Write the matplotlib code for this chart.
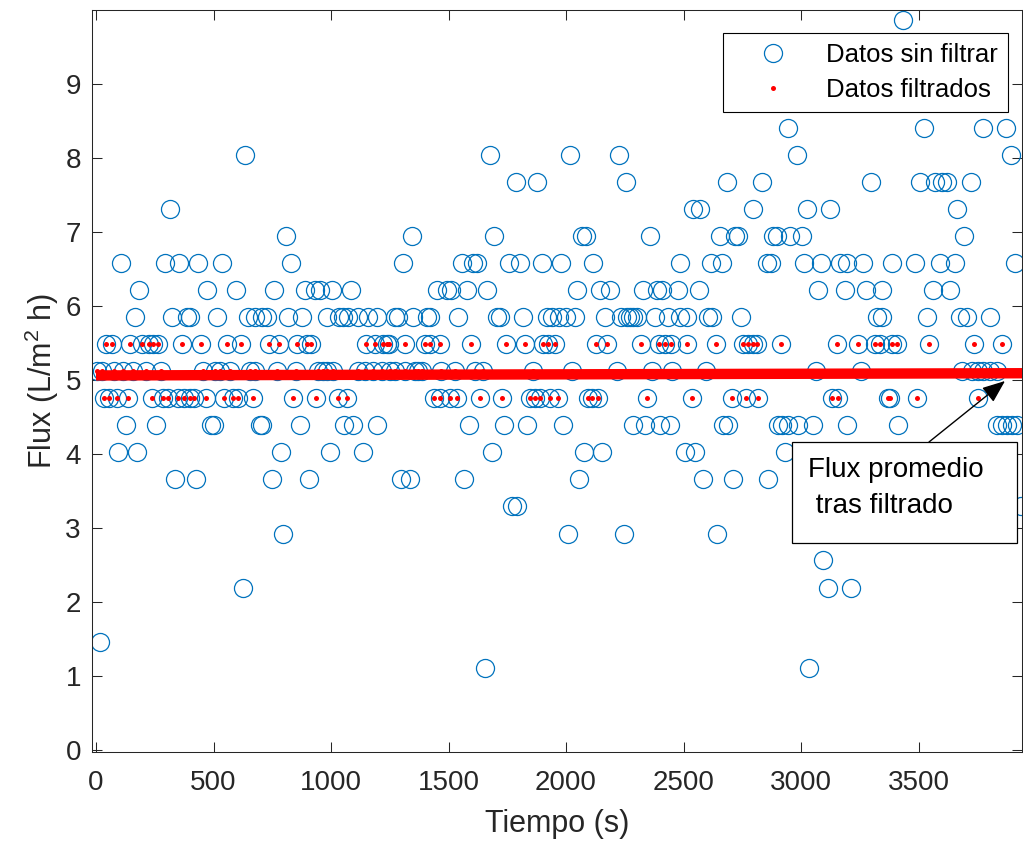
import matplotlib
matplotlib.use("Agg")
import matplotlib.pyplot as plt
from matplotlib.patches import Rectangle
import numpy as np

plt.rcParams['font.family'] = ['Liberation Sans', 'DejaVu Sans']
plt.rcParams['mathtext.fontset'] = 'custom'
plt.rcParams['mathtext.rm'] = 'Liberation Sans'

# ---- data: time (s) of each raw sample, grouped by measured flux level ----
t_987 = [3435]
t_841 = [2946, 3524, 3776, 3872]
t_804 = [636, 1676, 2017, 2225, 2984, 3892]
t_768 = [1787, 1878, 2255, 2684, 2833, 3296, 3506, 3570, 3598, 3622, 3723]
t_731 = [316, 2542, 2570, 2797, 3024, 3123, 3662]
t_694 = [808, 1346, 1695, 2067, 2085, 2357, 2655, 2719, 2733, 2882, 2896, 2953, 3003, 3693]
t_658 = [105, 294, 354, 435, 537, 829, 1308, 1556, 1605, 1620, 1757, 1804, 1896, 1977,
         2116, 2485, 2617, 2662, 2854, 2871, 3014, 3085, 3166, 3194, 3265, 3388, 3485,
         3591, 3655, 3910]
t_621 = [184, 474, 596, 757, 889, 932, 953, 1005, 1085, 1450, 1492, 1509, 1577, 1665,
         2045, 2145, 2187, 2326, 2386, 2407, 2478, 2567, 3073, 3187, 3275, 3343, 3563, 3634]
t_585 = [166, 325, 386, 400, 513, 648, 677, 705, 726, 818, 875, 982, 1034, 1052, 1074,
         1113, 1159, 1194, 1272, 1284, 1350, 1407, 1421, 1542, 1705, 1719, 1818, 1918,
         1939, 1970, 1999, 2038, 2166, 2234, 2258, 2272, 2286, 2301, 2378, 2435, 2485,
         2513, 2605, 2620, 2745, 3322, 3343, 3534, 3676, 3705, 3804]
t_548 = [41, 67, 146, 194, 226, 244, 265, 365, 445, 559, 617, 737, 777, 857, 896, 915,
         1148, 1187, 1222, 1237, 1247, 1315, 1400, 1421, 1464, 1596, 1745, 1825, 1903,
         1925, 1953, 2126, 2176, 2318, 2396, 2421, 2445, 2516, 2637, 2755, 2776, 2797,
         2811, 2913, 3152, 3244, 3315, 3336, 3386, 3407, 3544, 3736, 3854]
t_512 = [5, 24, 77, 116, 159, 211, 277, 457, 506, 528, 570, 655, 677, 769, 850, 946, 967,
         982, 1010, 1116, 1145, 1180, 1216, 1251, 1272, 1315, 1357, 1371, 1386, 1470,
         1528, 1613, 1648, 1861, 2024, 2215, 2364, 2450, 2596, 3062, 3255, 3683, 3726,
         3754, 3776, 3804, 3832]
t_475 = [35, 55, 88, 135, 237, 284, 305, 348, 376, 400, 417, 467, 546, 584, 605, 667,
         837, 936, 1028, 1067, 1439, 1465, 1506, 1537, 1634, 1726, 1847, 1868, 1889,
         1932, 1967, 2095, 2109, 2135, 2346, 2535, 2705, 2766, 2815, 3130, 3159, 3371,
         3378, 3492, 3754]
t_439 = [126, 254, 490, 500, 698, 705, 868, 1057, 1095, 1197, 1587, 1736, 1835, 1988,
         2286, 2336, 2400, 2442, 2669, 2691, 2903, 2918, 2946, 2988, 3052, 3194, 3414,
         3832, 3854, 3875, 3896, 3917]
t_402 = [95, 176, 787, 996, 1137, 1685, 2078, 2154, 2506, 2549, 2932]
t_366 = [336, 426, 747, 908, 1298, 1336, 1566, 2056, 2584, 2712, 2861]
t_329 = [1769, 1790, 3935]
t_292 = [797, 2007, 2247, 2643]
t_256 = [3095]
t_219 = [627, 3116, 3213]
t_146 = [16]
t_110 = [1655, 3034]

niveles = [9.87, 8.41, 8.04, 7.68, 7.31, 6.94, 6.58, 6.21, 5.85, 5.48, 5.12, 4.75,
           4.39, 4.02, 3.66, 3.29, 2.92, 2.56, 2.19, 1.46, 1.10]
tiempos_por_nivel = [t_987, t_841, t_804, t_768, t_731, t_694, t_658, t_621, t_585,
                     t_548, t_512, t_475, t_439, t_402, t_366, t_329, t_292, t_256,
                     t_219, t_146, t_110]

# filter band and average line
banda_filtro = [4.70, 5.55]
linea_t = [0, 3940]
linea_flux = [5.06, 5.09]

xticks = [0, 500, 1000, 1500, 2000, 2500, 3000, 3500]
yticks = [0, 1, 2, 3, 4, 5, 6, 7, 8, 9]

# ---- build series ----
tiempo = np.concatenate([np.array(ts, float) for ts in tiempos_por_nivel])
flux = np.concatenate([np.full(len(ts), lv) for ts, lv in zip(tiempos_por_nivel, niveles)])
orden = np.argsort(tiempo)
tiempo, flux = tiempo[orden], flux[orden]
mask = (flux >= banda_filtro[0]) & (flux <= banda_filtro[1])

W, H = 1023, 844
fig = plt.figure(figsize=(W / 100, H / 100), dpi=100)
ax = fig.add_axes([92 / W, 1 - 752 / H, (1022 - 92) / W, (752 - 10) / H])

blue = '#0072BD'
dark = '#262626'

h1, = ax.plot(tiempo, flux, linestyle='none', marker='o', ms=13, mfc='none',
              mec=blue, mew=0.9, label='Datos sin filtrar', zorder=2)
h2, = ax.plot(tiempo[mask], flux[mask], linestyle='none', marker='o', ms=3.6,
              mfc='red', mec='none', label='Datos filtrados', zorder=3)
ax.plot(linea_t, linea_flux, color='red', lw=7.5, solid_capstyle='butt', zorder=4)

ax.set_xlim(-17, 3940)
ax.set_ylim(-0.03, 10.0)
ax.set_xticks(xticks)
ax.set_yticks(yticks)
ax.tick_params(direction='in', top=True, right=True, length=7, width=0.75,
               labelsize=20, colors=dark)
ax.tick_params(axis='x', pad=13)
ax.tick_params(axis='y', pad=8)
for s in ax.spines.values():
    s.set_linewidth(0.75)
    s.set_color(dark)

ax.set_xlabel('Tiempo (s)', fontsize=22, color=dark, labelpad=9)
ax.set_ylabel(r'Flux (L/m$^{\mathrm{2}}$ h)', fontsize=22, color=dark, labelpad=3)

leg = ax.legend(handles=[h1, h2], loc='upper right', bbox_to_anchor=(0.985, 0.969),
                borderaxespad=0, fontsize=18.5, frameon=True, fancybox=False,
                edgecolor='black', framealpha=1, handlelength=3.1, handletextpad=0.5,
                borderpad=0.4, labelspacing=0.4, numpoints=1)
leg.get_frame().set_linewidth(0.8)

# annotation text box with arrow
rect = Rectangle((792 / W, 1 - 543 / H), (1017 - 792) / W, (543 - 442) / H,
                 transform=fig.transFigure, facecolor='white', edgecolor='black',
                 lw=0.9, zorder=5)
fig.patches.append(rect)
fig.text(808 / W, 1 - 470 / H, 'Flux promedio', fontsize=20, ha='left', va='center',
         color='black', zorder=6)
fig.text(808 / W, 1 - 506 / H, ' tras filtrado', fontsize=20, ha='left', va='center',
         color='black', zorder=6)
fig.add_artist(matplotlib.patches.FancyArrowPatch(
    (929 / W, 1 - 442 / H), (1005 / W, 1 - 381 / H), transform=fig.transFigure,
    arrowstyle='-|>,head_length=0.5,head_width=0.2', mutation_scale=28,
    color='black', lw=1, shrinkA=0, shrinkB=0, zorder=6))

fig.savefig('out.png', dpi=100)
